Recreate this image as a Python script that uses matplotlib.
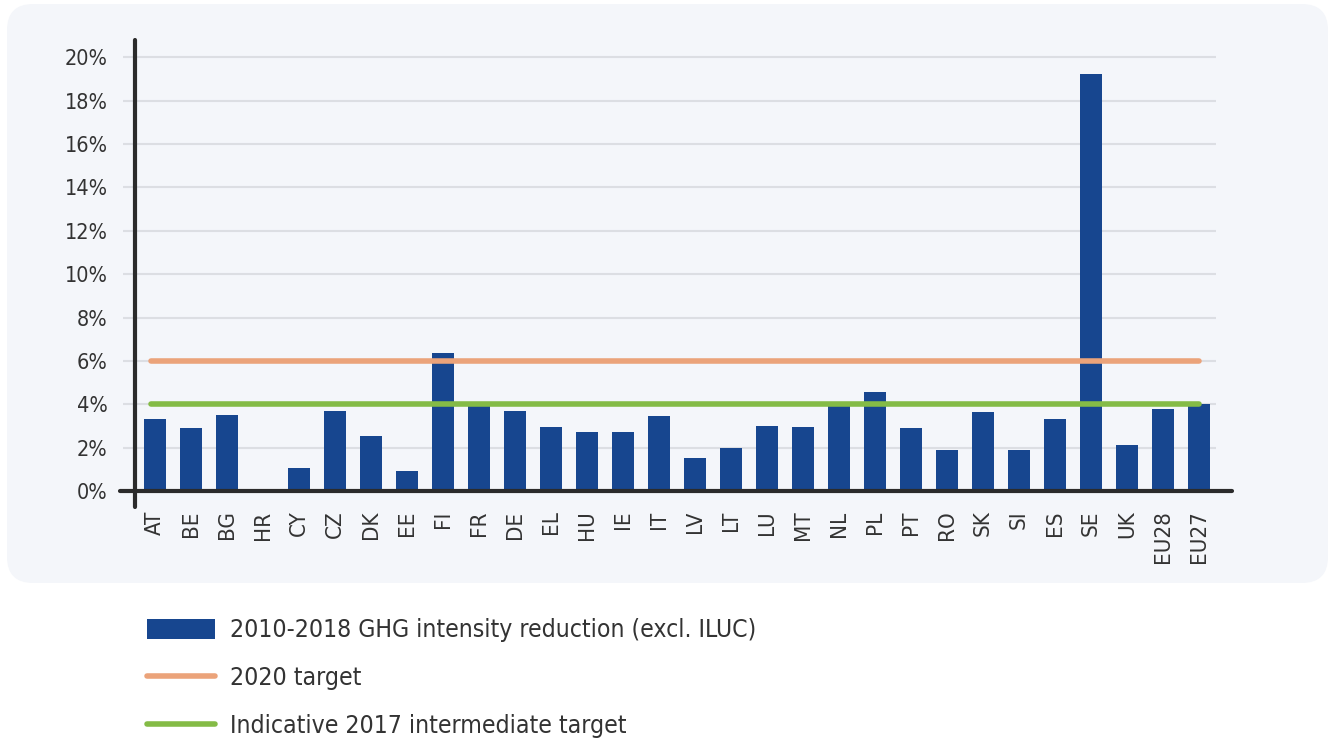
import matplotlib
matplotlib.use("Agg")
import matplotlib.pyplot as plt
from matplotlib.patches import FancyBboxPatch, Patch
from matplotlib.lines import Line2D
import numpy as np

plt.rcParams['font.family'] = ['DejaVu Sans']
plt.rcParams['font.stretch'] = 'condensed'

# data
countries = ['AT', 'BE', 'BG', 'HR', 'CY', 'CZ', 'DK', 'EE', 'FI', 'FR', 'DE', 'EL', 'HU', 'IE', 'IT',
             'LV', 'LT', 'LU', 'MT', 'NL', 'PL', 'PT', 'RO', 'SK', 'SI', 'ES', 'SE', 'UK', 'EU28', 'EU27']
reduction = [3.34, 2.92, 3.52, 0.0, 1.08, 3.71, 2.55, 0.90, 6.38, 3.95, 3.71, 2.97, 2.74, 2.74, 3.48,
             1.50, 2.00, 3.02, 2.97, 3.94, 4.58, 2.92, 1.91, 3.66, 1.91, 3.30, 19.24, 2.10, 3.76, 3.99]
target_2020 = 6.0
target_2017 = 4.0
yticks = [0, 2, 4, 6, 8, 10, 12, 14, 16, 18, 20]

bar_color = '#17468f'
orange = '#eba37a'
green = '#84bb46'
dark = '#2b2b2b'
text_col = '#333333'

W, H = 1328, 740
fig = plt.figure(figsize=(W / 100, H / 100), dpi=100)
fig.patch.set_facecolor('white')

# light rounded panel behind the chart
bg = fig.add_axes([0, 0, 1, 1], zorder=-5)
bg.set_axis_off()
bg.set_xlim(0, W)
bg.set_ylim(H, 0)
bg.add_patch(FancyBboxPatch((7, 4), 1321, 579, boxstyle='round,pad=0,rounding_size=26',
                            facecolor='#f4f6fa', edgecolor='none'))

ax = fig.add_axes([120 / W, (H - 491) / H, 1112 / W, 451 / H])
ax.set_facecolor('none')
x = np.arange(len(countries))
step = 36.0
ax.set_xlim((120 - 155) / step, (1232 - 155) / step)
ax.set_ylim(0, 20.8)

for s in ax.spines.values():
    s.set_visible(False)

# grid lines
grid_left = (123 - 155) / step
grid_right = (1216 - 155) / step
ax.hlines(yticks[1:], grid_left, grid_right, color='#dcdee3', lw=1.5, zorder=1)

ax.bar(x, reduction, width=0.61, color=bar_color, zorder=2)
ax.plot([x[0] - 0.12, x[-1]], [target_2020] * 2, color=orange, lw=4, solid_capstyle='round', zorder=3)
ax.plot([x[0] - 0.12, x[-1]], [target_2017] * 2, color=green, lw=4, solid_capstyle='round', zorder=3)

# axis lines
y_axis_x = (135 - 155) / step
ax.plot([y_axis_x, y_axis_x], [-0.72, 20.8], color=dark, lw=3.0, solid_capstyle='round', clip_on=False, zorder=4)
ax.plot([ax.get_xlim()[0], ax.get_xlim()[1]], [0, 0], color=dark, lw=3.0, solid_capstyle='round', clip_on=False, zorder=4)

ax.set_yticks(yticks)
ax.set_yticklabels([f'{v}%' for v in yticks], fontsize=15.5, color=text_col)
ax.set_xticks(x)
ax.set_xticklabels(countries, rotation=90, fontsize=16, color=text_col)
ax.tick_params(axis='both', length=0)
ax.tick_params(axis='y', pad=9)
ax.tick_params(axis='x', pad=14)

handles = [Patch(facecolor=bar_color, edgecolor='none'),
           Line2D([], [], color=orange, lw=4, solid_capstyle='round'),
           Line2D([], [], color=green, lw=4, solid_capstyle='round')]
labels = ['2010-2018 GHG intensity reduction (excl. ILUC)', '2020 target', 'Indicative 2017 intermediate target']
fig.legend(handles, labels, loc='upper left', bbox_to_anchor=(125 / W, (H - 596) / H),
           frameon=False, fontsize=17.7, handlelength=2.77, handleheight=0.86, handletextpad=0.61,
           labelspacing=0.98, labelcolor=text_col)

fig.savefig('out.png', dpi=100)
